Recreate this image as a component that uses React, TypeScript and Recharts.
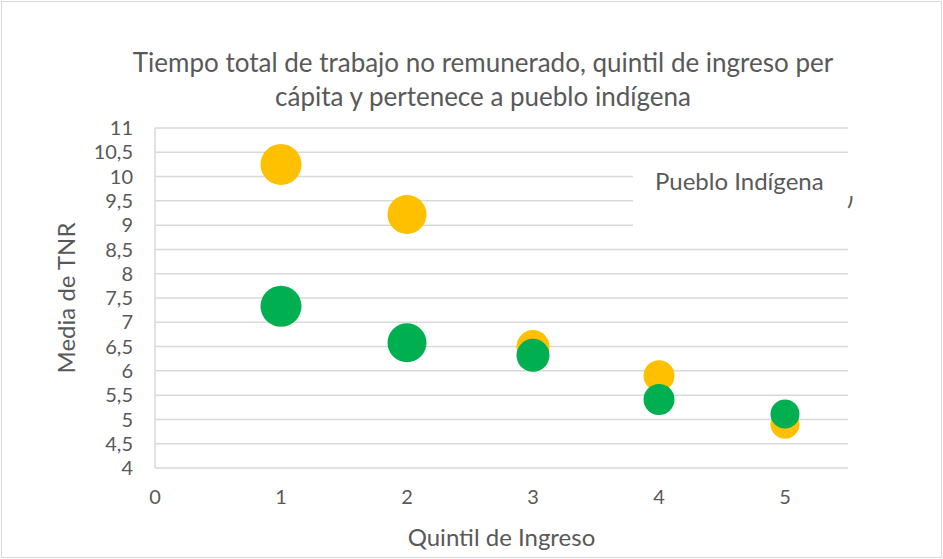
import { ScatterChart, Scatter, XAxis, YAxis, ZAxis, CartesianGrid } from 'recharts';

const quintiles = [1, 2, 3, 4, 5];
const indigenaSi = [10.25, 9.22, 6.5, 5.9, 4.9];
const indigenaNo = [7.33, 6.58, 6.32, 5.41, 5.11];
const bubbleSize = [420, 380, 272, 240, 210];
const xTicks = [0, 1, 2, 3, 4, 5];
const yTicks = [4, 4.5, 5, 5.5, 6, 6.5, 7, 7.5, 8, 8.5, 9, 9.5, 10, 10.5, 11];

const siData = quintiles.map((q, i) => ({ x: q, y: indigenaSi[i], z: bubbleSize[i] }));
const noData = quintiles.map((q, i) => ({ x: q, y: indigenaNo[i], z: bubbleSize[i] }));

const TEXT = '#595959';
const FONT = 'Lato, "Open Sans", sans-serif';

const fmt = (v: number) => String(v).replace('.', ',');

export default function App() {
  return (
    <div
      style={{
        position: 'absolute',
        left: 0,
        top: 0,
        width: 943,
        height: 559,
        background: '#fff',
        fontFamily: FONT,
        color: TEXT,
      }}
    >
      <div
        style={{
          position: 'absolute',
          left: 1,
          top: 1,
          width: 939,
          height: 555,
          border: '1px solid #d9d9d9',
        }}
      />
      <div
        style={{
          position: 'absolute',
          left: 0,
          top: 45,
          width: 966,
          textAlign: 'center',
          fontSize: 26,
          lineHeight: '34px',
        }}
      >
        Tiempo total de trabajo no remunerado, quintil de ingreso per
        <br />
        cápita y pertenece a pueblo indígena
      </div>
      <ScatterChart
        width={943}
        height={559}
        margin={{ top: 128, right: 95, bottom: 0, left: 0 }}
        style={{ position: 'absolute', left: 0, top: 0 }}
      >
        <CartesianGrid vertical={false} stroke="#d9d9d9" strokeWidth={1.5} />
        <XAxis
          type="number"
          dataKey="x"
          domain={[0, 5.5]}
          ticks={xTicks}
          interval={0}
          height={91}
          axisLine={false}
          tickLine={false}
          tickSize={0}
          tickMargin={22}
          tick={{ fill: TEXT, fontSize: 20, fontFamily: FONT }}
          label={{
            value: 'Quintil de Ingreso',
            position: 'insideBottom',
            offset: 13,
            fill: TEXT,
            fontSize: 24,
            fontFamily: FONT,
          }}
        />
        <YAxis
          type="number"
          dataKey="y"
          domain={[4, 11]}
          ticks={yTicks}
          interval={0}
          width={155}
          axisLine={{ stroke: '#d9d9d9', strokeWidth: 1.5 }}
          tickLine={false}
          tickSize={0}
          tickMargin={22}
          tickFormatter={fmt}
          tick={{ fill: TEXT, fontSize: 20, fontFamily: FONT }}
          label={{
            value: 'Media de TNR',
            angle: -90,
            position: 'insideLeft',
            offset: 66,
            style: { textAnchor: 'middle' },
            fill: TEXT,
            fontSize: 24,
            fontFamily: FONT,
          }}
        />
        <ZAxis type="number" dataKey="z" domain={[0, 420]} range={[0, 1320]} />
        <Scatter name="Sí" data={siData} fill="#FFC000" isAnimationActive={false} />
        <Scatter name="No" data={noData} fill="#00B050" isAnimationActive={false} />
      </ScatterChart>
      <div
        style={{
          position: 'absolute',
          left: 633,
          top: 158,
          width: 216,
          height: 74,
          background: '#fff',
        }}
      >
        <div style={{ position: 'absolute', left: 22, top: 9, fontSize: 24, lineHeight: 1.2, whiteSpace: 'nowrap' }}>
          Pueblo Indígena
        </div>
      </div>
      <div style={{ position: 'absolute', left: 846, top: 196, width: 10, height: 14, overflow: 'hidden' }}>
        <div style={{ position: 'absolute', left: 1, top: -14, fontSize: 24, lineHeight: 1.2 }}>)</div>
      </div>
    </div>
  );
}
